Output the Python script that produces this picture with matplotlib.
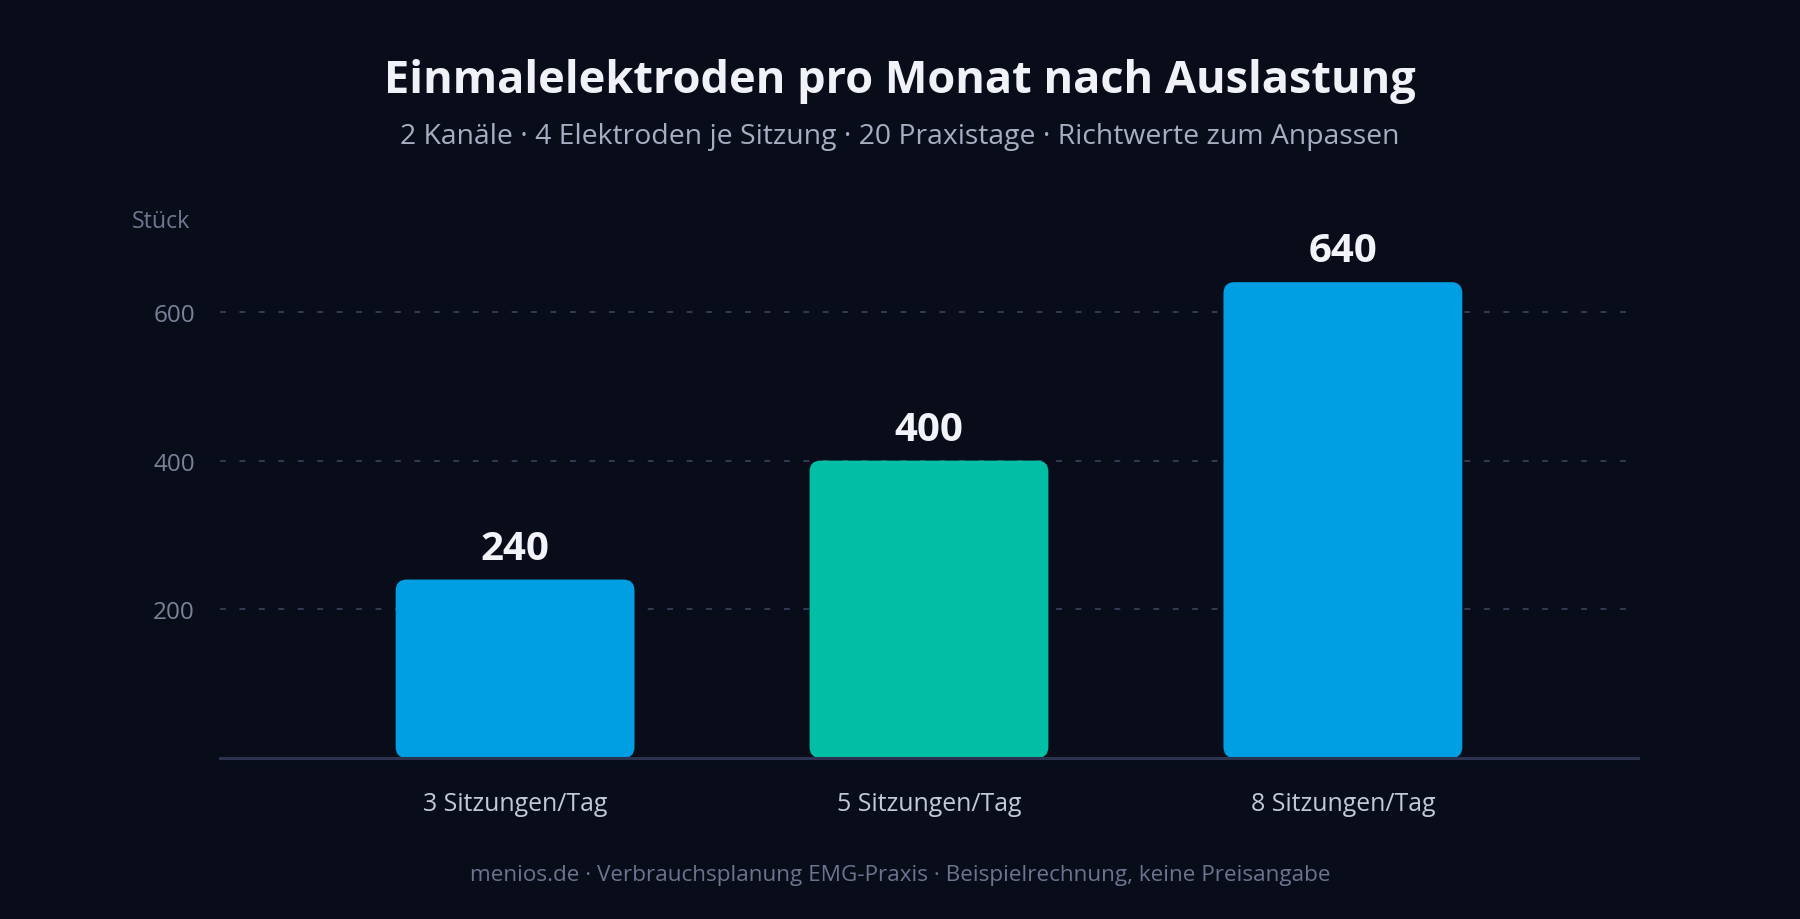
import matplotlib.pyplot as plt
from matplotlib.patches import FancyBboxPatch

plt.rcParams['font.family'] = ['Open Sans', 'DejaVu Sans']

# ======= Daten =======
categories = ['3 Sitzungen/Tag', '5 Sitzungen/Tag', '8 Sitzungen/Tag']
values = [240, 400, 640]
bar_colors = ['#009fe3', '#00bfa5', '#009fe3']
y_ticks = [200, 400, 600]

TITLE = 'Einmalelektroden pro Monat nach Auslastung'
SUBTITLE = '2 Kanäle · 4 Elektroden je Sitzung · 20 Praxistage · Richtwerte zum Anpassen'
FOOTER = 'menios.de · Verbrauchsplanung EMG-Praxis · Beispielrechnung, keine Preisangabe'
Y_LABEL = 'Stück'

BG = '#090d1a'
BAR_W = 0.577

fig = plt.figure(figsize=(18, 9.2), dpi=100, facecolor=BG)
ax = fig.add_axes([0.1222, 0.175, 0.7878, 0.5657])
ax.set_facecolor(BG)
ax.set_xlim(-0.713, 2.713)
ax.set_ylim(0, 700)

# px pro Dateneinheit, fuer runde Ecken
px_x = 0.7878 * 1800 / (2.713 + 0.713)
px_y = 0.5657 * 920 / 700
radius_px = 11
for i, (v, c) in enumerate(zip(values, bar_colors)):
    box = FancyBboxPatch((i - BAR_W / 2, 0), BAR_W, v,
                         boxstyle=f'round,pad=0,rounding_size={radius_px / px_x}',
                         mutation_aspect=px_x / px_y,
                         facecolor=c, edgecolor='none', zorder=3)
    ax.add_patch(box)
    ax.annotate(str(v), (i, v), xytext=(0, 15), textcoords='offset points',
                ha='center', va='baseline', fontsize=29, fontweight='bold',
                color='#f2f4fa', zorder=4, annotation_clip=False)

ax.set_yticks(y_ticks)
ax.set_yticklabels([str(t) for t in y_ticks])
ax.set_xticks(range(len(categories)))
ax.set_xticklabels(categories)
ax.tick_params(axis='y', length=0, pad=18, labelsize=17.5, labelcolor='#7a8298')
ax.tick_params(axis='x', length=0, pad=23.5, labelsize=17.9, labelcolor='#c3c9d8')

ax.grid(axis='y', color='#343b55', linestyle=(0, (3, 7)), linewidth=1.4, zorder=1)
for s in ['top', 'right', 'left']:
    ax.spines[s].set_visible(False)
ax.spines['bottom'].set_color('#2c3350')
ax.spines['bottom'].set_linewidth(2.2)
ax.spines['bottom'].set_zorder(5)

fig.text(0.5, 1 - 81 / 920, TITLE, ha='center', va='center',
         fontsize=32.5, fontweight='bold', color='#f0f2f8')
fig.text(0.5, 1 - 137.5 / 920, SUBTITLE, ha='center', va='center',
         fontsize=20.4, color='#a6aec2')
fig.text(132 / 1800, 1 - 221.5 / 920, Y_LABEL, ha='left', va='center',
         fontsize=16.7, color='#6f7790')
fig.text(0.5, 1 - 875.5 / 920, FOOTER, ha='center', va='center',
         fontsize=16.2, color='#6c7490')

fig.savefig('out.png', dpi=100, facecolor=BG)
